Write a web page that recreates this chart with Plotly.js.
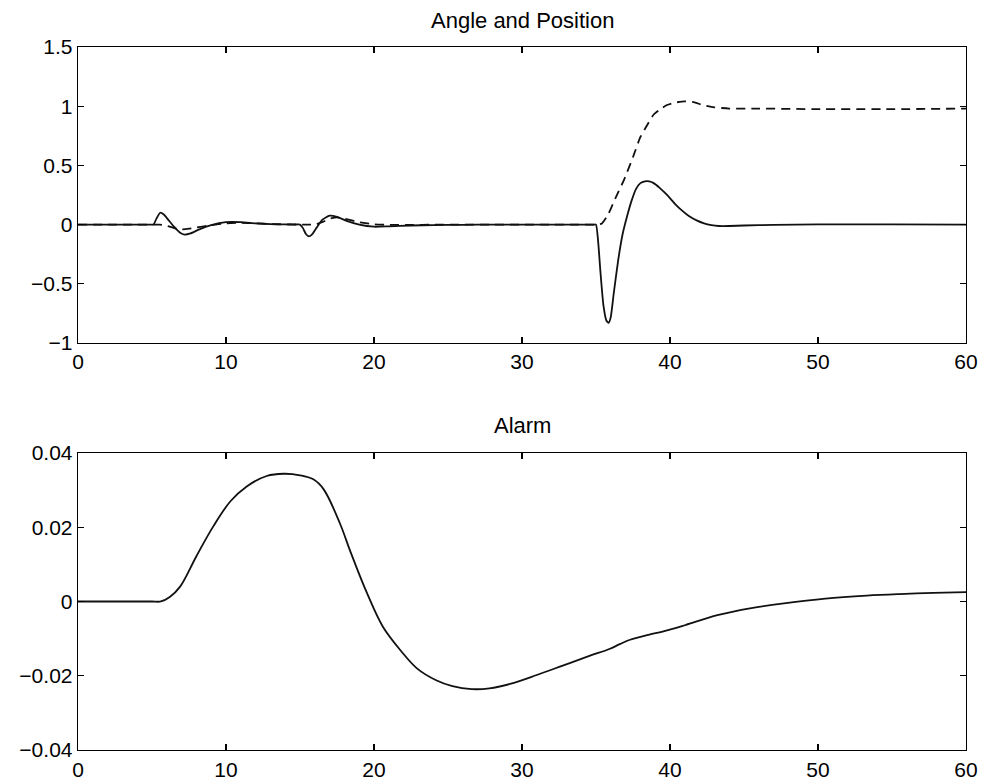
<!DOCTYPE html>
<html>
<head>
<meta charset="utf-8">
<script src="https://cdn.plot.ly/plotly-3.0.1.min.js"></script>
<style>html,body{margin:0;padding:0;background:#fff;}#chart{width:985px;height:783px;}</style>
</head>
<body>
<div id="chart"></div>
<script>
// Top panel: angle (solid)
const angleT = [0, 2, 4, 4.8, 5.1, 5.3, 5.55, 5.8, 6.1, 6.5, 6.9, 7.2, 7.6, 8.2, 9.0, 10.0, 11.0, 12.0, 13.0, 14.0, 14.6,
  15.0, 15.2, 15.4, 15.6, 15.8, 16.1, 16.5, 17.0, 17.5, 18.2, 19.0, 20.0, 21.0, 22.5, 24, 26, 28, 30, 32, 33.5, 34.5, 34.85,
  35.0, 35.15, 35.3, 35.5, 35.7, 35.85, 36.0, 36.2, 36.5, 36.8, 37.1, 37.4, 37.7, 38.0, 38.3, 38.6,
  38.9, 39.3, 39.8, 40.3, 40.8, 41.3, 41.8, 42.3, 42.8, 43.3, 44.0, 45.0, 47.0, 50.0, 55.0, 60.0];
const angleV = [0, 0, 0, 0, 0, 0.05, 0.1, 0.085, 0.04, -0.02, -0.07, -0.085, -0.075, -0.04, -0.005, 0.02, 0.02, 0.01, 0.004, 0.001, 0,
  0, -0.03, -0.08, -0.1, -0.085, -0.03, 0.04, 0.075, 0.065, 0.03, 0.0, -0.018, -0.015, -0.008, -0.004, -0.002, 0, 0, 0, 0, 0, 0,
  0, -0.15, -0.4, -0.68, -0.81, -0.83, -0.78, -0.58, -0.3, -0.08, 0.07, 0.2, 0.3, 0.35, 0.365, 0.365,
  0.35, 0.31, 0.25, 0.18, 0.12, 0.07, 0.035, 0.01, -0.005, -0.012, -0.012, -0.008, -0.003, 0.001, 0.001, 0];

// Top panel: position (dashed)
const posT = [0, 2, 4, 5.0, 5.5, 6.0, 6.5, 7.0, 7.5, 8.0, 9.0, 10.0, 11.0, 12.0, 13.0, 14.5,
  15.5, 16.0, 16.5, 17.0, 17.5, 18.0, 19.0, 20.0, 21.0, 22.5, 24, 26, 28, 30, 32, 33.5, 34.5, 34.85,
  35.1, 35.4, 35.8, 36.3, 36.9, 37.5, 38.0, 38.5, 38.9, 39.4, 39.8, 40.3, 41.0, 41.6, 42.2, 43.0, 44.0, 46.0, 50.0, 55.0, 60.0];
const posV = [0, 0, 0, 0, 0, -0.01, -0.03, -0.04, -0.035, -0.025, -0.005, 0.01, 0.015, 0.01, 0.005, 0.001,
  0, 0, 0.02, 0.05, 0.06, 0.05, 0.02, 0.003, -0.003, -0.003, -0.001, 0, 0, 0, 0, 0, 0, 0,
  0, 0.01, 0.08, 0.22, 0.38, 0.57, 0.74, 0.85, 0.93, 0.98, 1.01, 1.03, 1.04, 1.035, 1.01, 0.99, 0.98, 0.98, 0.975, 0.975, 0.98];

// Bottom panel: alarm
const alarmT = [0, 2, 4, 5.0, 5.6, 6.2, 6.9, 8.0, 9.15, 10.3, 11.4, 12.75, 13.9, 15.0, 15.9, 16.6, 17.7, 18.4,
  19.5, 20.6, 21.8, 22.9, 24.2, 25.3, 26.6, 27.8, 29.2, 31.0, 32.8, 34.6, 35.9, 36.6, 37.3, 38.6, 39.5,
  41.0, 43.2, 45.5, 47.7, 50.5, 53.3, 55.5, 57.8, 60];
const alarmV = [0, 0, 0, 0, 0, 0.0012, 0.004, 0.0122, 0.0203, 0.027, 0.031, 0.0338, 0.0344, 0.034, 0.0329, 0.0302, 0.021, 0.0135,
  0.0025, -0.0068, -0.0132, -0.018, -0.0212, -0.0228, -0.0236, -0.0234, -0.0222, -0.0198, -0.0172, -0.0146, -0.0128, -0.0115, -0.0103, -0.0089, -0.0081,
  -0.0064, -0.0037, -0.0018, -0.0005, 0.0008, 0.0016, 0.002, 0.0023, 0.0025];

const xTicks = [0, 10, 20, 30, 40, 50, 60];
const topYTicks = [-1, -0.5, 0, 0.5, 1, 1.5];
const botYTicks = [-0.04, -0.02, 0, 0.02, 0.04];
const topTitle = 'Angle and Position';
const botTitle = 'Alarm';

const fam = 'Liberation Sans, Arial, Helvetica, sans-serif';
const font = {family: fam, size: 21, color: '#000'};
const axBase = {
  showline: true, mirror: 'ticks', linecolor: '#000', linewidth: 1.3,
  ticks: 'inside', ticklen: 6, tickwidth: 1.3, tickcolor: '#000',
  showgrid: false, zeroline: false, tickfont: font, fixedrange: true
};

const traces = [
  {x: angleT, y: angleV, xaxis: 'x', yaxis: 'y', mode: 'lines', line: {color: '#111', width: 1.8, shape: 'spline', smoothing: 0.5}},
  {x: posT, y: posV, xaxis: 'x', yaxis: 'y', mode: 'lines', line: {color: '#111', width: 1.8, dash: '9px,6px', shape: 'spline', smoothing: 0.5}},
  {x: alarmT, y: alarmV, xaxis: 'x2', yaxis: 'y2', mode: 'lines', line: {color: '#111', width: 1.8, shape: 'spline', smoothing: 1.0}}
];

const layout = {
  width: 985, height: 783,
  margin: {l: 78, r: 19, t: 47, b: 33},
  paper_bgcolor: '#fff', plot_bgcolor: '#fff',
  showlegend: false,
  font: font,
  xaxis: Object.assign({}, axBase, {domain: [0, 1], range: [0, 60], tickvals: xTicks, ticktext: xTicks.map(String), anchor: 'y'}),
  yaxis: Object.assign({}, axBase, {domain: [0.579, 1], range: [-1, 1.5], tickvals: topYTicks, ticktext: topYTicks.map(v => String(v).replace('-', '\u2212')), anchor: 'x'}),
  xaxis2: Object.assign({}, axBase, {domain: [0, 1], range: [0, 60], tickvals: xTicks, ticktext: xTicks.map(String), anchor: 'y2'}),
  yaxis2: Object.assign({}, axBase, {domain: [0, 0.4225], range: [-0.04, 0.04], tickvals: botYTicks, ticktext: botYTicks.map(v => (v === 0 ? '0' : v.toFixed(2)).replace('-', '\u2212')), anchor: 'x2'}),
  annotations: [
    {text: topTitle, xref: 'paper', yref: 'paper', x: 0.5, y: 1.038, xanchor: 'center', yanchor: 'middle', showarrow: false, font: {family: fam, size: 22, color: '#000'}},
    {text: botTitle, xref: 'paper', yref: 'paper', x: 0.5, y: 0.461, xanchor: 'center', yanchor: 'middle', showarrow: false, font: {family: fam, size: 22, color: '#000'}}
  ]
};

Plotly.newPlot('chart', traces, layout, {displayModeBar: false, staticPlot: true});
</script>
</body>
</html>
